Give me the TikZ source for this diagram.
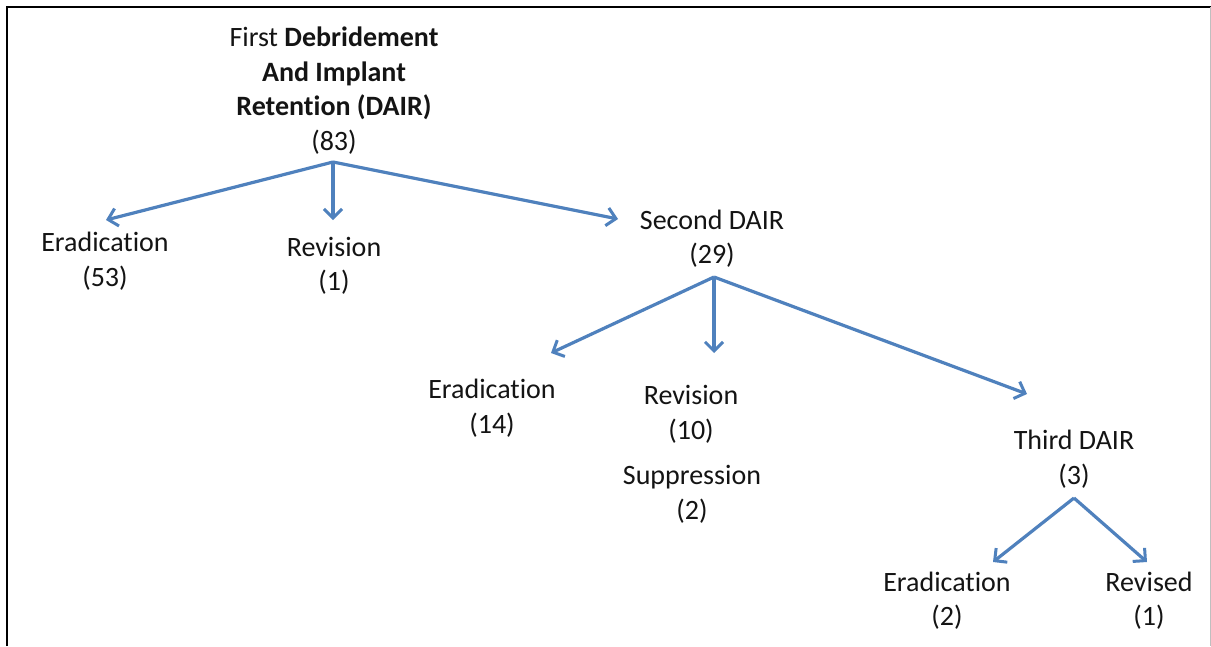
\documentclass[tikz,border=0pt]{standalone}
\usepackage{fontspec}
\setmainfont{Carlito}[RawFeature={-liga;-clig;-calt;-dlig}]
\usetikzlibrary{arrows.meta}
\definecolor{arr}{HTML}{4F81BD}
\definecolor{txt}{HTML}{141414}
\tikzset{
  lbl/.style={align=center, inner sep=0pt, text=txt, font=\fontsize{28}{34.5}\selectfont},
  conn/.style={draw=arr, line width=3.2pt, -{Straight Barb[length=9pt,width=18pt,line width=3pt]}},
}
\begin{document}
\begin{tikzpicture}[x=1pt,y=-1pt]
\useasboundingbox (0,0) rectangle (1211,646);
\fill[white] (0,0) rectangle (1211,646);
% frame
\draw[line width=2.5pt, black] (7,646) -- (7,7) -- (1211,7);
\draw[line width=1pt, black!25] (1210,7) -- (1210,646);

% nodes
\node[lbl] (root) at (334,90.5) {First \textbf{Debridement}\\\textbf{And Implant}\\\textbf{Retention (DAIR)}\\(83)};
\node[lbl] (er1) at (105,261) {Eradication\\(53)};
\node[lbl] (rev1) at (334,266) {Revision\\(1)};
\node[lbl] (sec) at (712,238.5) {Second DAIR\\(29)};
\node[lbl] (er2) at (492,408) {Eradication\\(14)};
\node[lbl] (rev2) at (691,414.5) {Revision\\(10)};
\node[lbl] (sup) at (692,494.5) {Suppression\\(2)};
\node[lbl] (third) at (1074,459) {Third DAIR\\(3)};
\node[lbl] (er3) at (947,600.5) {Eradication\\(2)};
\node[lbl] (rvd) at (1149,600.5) {Revised\\(1)};

% connector end points
\coordinate (o1) at (333,162);
\coordinate (t11) at (106,220);
\coordinate (t12) at (333,220);
\coordinate (t13) at (618,219);
\coordinate (o2) at (714,277);
\coordinate (t21) at (551,353);
\coordinate (t22) at (714,353);
\coordinate (t23) at (1027,394);
\coordinate (o3) at (1074,498);
\coordinate (t31) at (993,562);
\coordinate (t32) at (1147,562);

\draw[conn] (o1) -- (t11);
\draw[conn] (o1) -- (t12);
\draw[conn] (o1) -- (t13);
\draw[conn] (o2) -- (t21);
\draw[conn] (o2) -- (t22);
\draw[conn] (o2) -- (t23);
\draw[conn] (o3) -- (t31);
\draw[conn] (o3) -- (t32);
\end{tikzpicture}
\end{document}
